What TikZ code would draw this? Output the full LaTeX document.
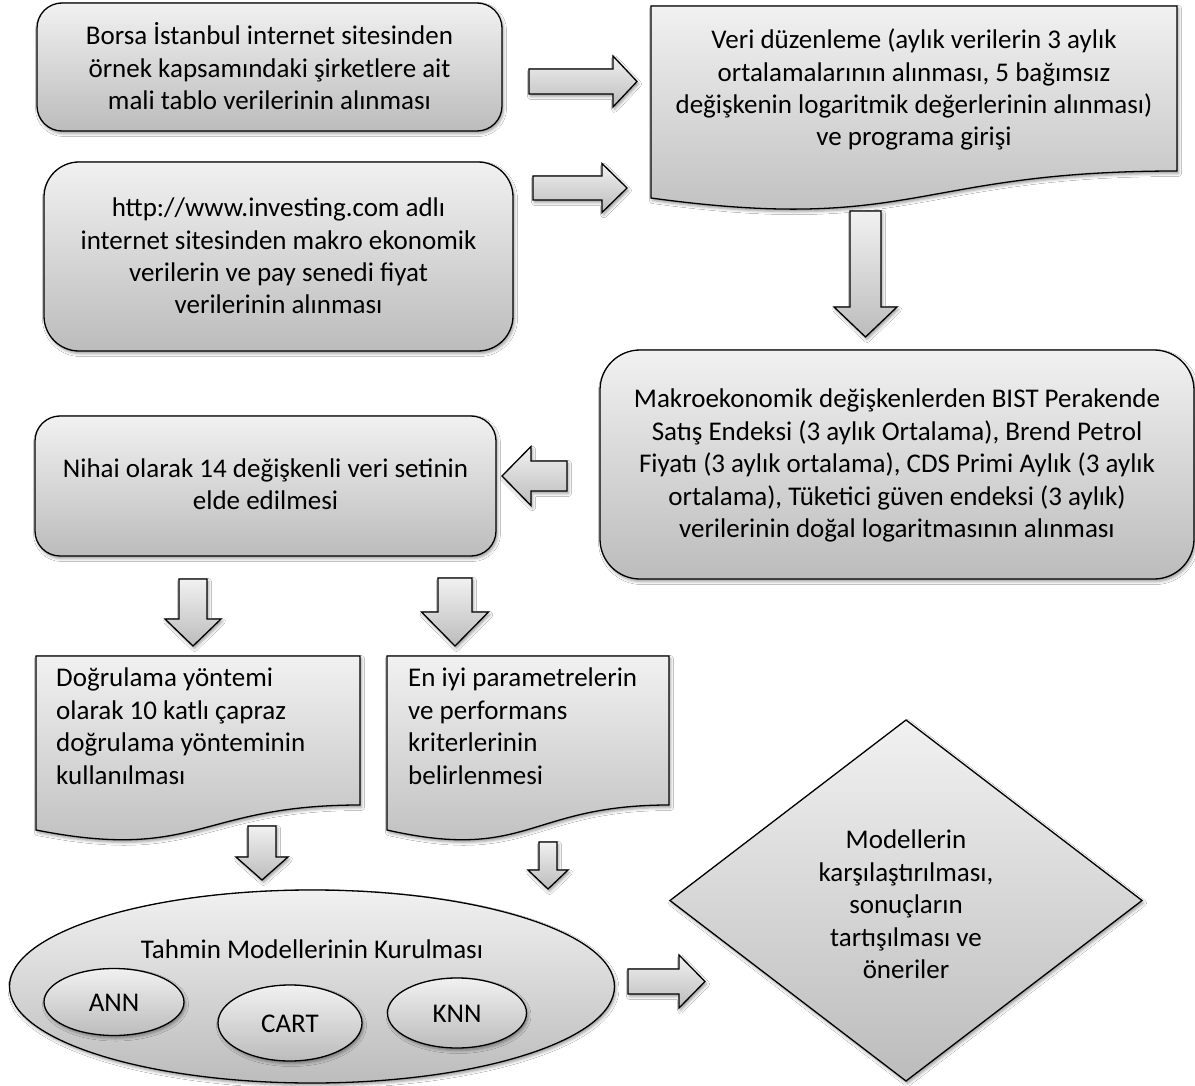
\documentclass[tikz,border=0pt]{standalone}
\usepackage{fontspec}
\setmainfont{Carlito}
\usetikzlibrary{shapes.geometric,shadows.blur}
\definecolor{gtop}{RGB}{241,241,241}
\definecolor{gbot}{RGB}{188,188,188}
\newcommand\wstrut{\rule[-0.269em]{0pt}{1.221em}}
\newcommand\blockH[6]{% y, shaft start x, head base x, tip x, shaft half, head half
  \path[barrow] (#2,#1-#5) -- (#3,#1-#5) -- (#3,#1-#6) -- (#4,#1) -- (#3,#1+#6) -- (#3,#1+#5) -- (#2,#1+#5) -- cycle;}
\newcommand\blockV[6]{% x, shaft start y, head base y, tip y, shaft half, head half
  \path[barrow] (#1-#5,#2) -- (#1+#5,#2) -- (#1+#5,#3) -- (#1+#6,#3) -- (#1,#4) -- (#1-#6,#3) -- (#1-#5,#3) -- cycle;}
\tikzset{
  fnt/.style={font=\fontsize{27}{32.4}\selectfont, execute at begin node=\wstrut, execute at end node=\wstrut},
  shp/.style={draw=black, line width=1.3pt, top color=gtop, bottom color=gbot,
    blur shadow={shadow xshift=1.5pt, shadow yshift=-2.5pt, shadow blur radius=3pt, shadow opacity=40}},
  rbox/.style={shp, rectangle, align=center, inner sep=0pt, fnt},
  ctxt/.style={align=center, inner sep=0pt, fnt},
  ltxt/.style={align=left, inner sep=0pt, fnt, anchor=north west},
  ell/.style={shp, ellipse, inner sep=0pt, fnt},
  barrow/.style={shp, line join=miter},
}
\begin{document}
\begin{tikzpicture}[x=1pt,y=-1pt]
\useasboundingbox (0,0) rectangle (1195,1086);
\fill[white] (0,0) rectangle (1195,1086);

% top-left boxes
\node[rbox, minimum width=465pt, minimum height=128pt, rounded corners=25pt] (b1) at (269.5,67) {};
\node[ctxt] (t1) at (269.5,70)
  {Borsa İstanbul internet sitesinden\\örnek kapsamındaki şirketlere ait\\mali tablo verilerinin alınması};
\node[rbox, minimum width=469pt, minimum height=189pt, rounded corners=35pt] (b2) at (278.5,256.5) {};
\node[ctxt] (t2) at (278.5,259.5)
  {http://www.investing.com adlı\\internet sitesinden makro ekonomik\\verilerin ve pay senedi fiyat\\verilerinin alınması};

% document shape top right
\path[shp] (651,6) -- (1177,6) -- (1177,171) .. controls (914,171) and (914,234) .. (651,198) -- cycle;
\node[ctxt] (b3) at (914,91)
  {Veri düzenleme (aylık verilerin 3 aylık\\ortalamalarının alınması, 5 bağımsız\\değişkenin logaritmik değerlerinin alınması)\\ve programa girişi};

% arrows into document
\blockH{81.5}{529}{613}{637}{12.5}{25.5}
\blockH{188}{533}{602}{627}{12}{24.5}
\blockV{865.5}{211}{307}{337}{15.5}{31.5}

% Makroekonomik box
\node[rbox, minimum width=594pt, minimum height=229pt, rounded corners=40pt] (b4) at (897,464.5) {};
\node[ctxt] (t4) at (897,467)
  {Makroekonomik değişkenlerden BIST Perakende\\Satış Endeksi (3 aylık Ortalama), Brend Petrol\\Fiyatı (3 aylık ortalama), CDS Primi Aylık (3 aylık\\ortalama), Tüketici güven endeksi (3 aylık)\\verilerinin doğal logaritmasının alınması};

\blockH{476}{567}{531}{502}{15}{29.5}

% Nihai box
\node[rbox, minimum width=461pt, minimum height=140pt, rounded corners=25pt] (b5) at (265.5,486) {};
\node[ctxt] (t5) at (265.5,488)
  {Nihai olarak 14 değişkenli veri setinin\\elde edilmesi};

\blockV{193}{579}{619}{646}{14}{28}
\blockV{455}{578}{612}{646}{17}{33.5}

% documents
\path[shp] (36,656) -- (360,656) -- (360,805) .. controls (198,805) and (198,862) .. (36,830) -- cycle;
\node[ltxt] (dA) at (56,668)
  {Doğrulama yöntemi\\olarak 10 katlı çapraz\\doğrulama yönteminin\\kullanılması};
\path[shp] (387,656) -- (669,656) -- (669,805) .. controls (528,805) and (528,862) .. (387,830) -- cycle;
\node[ltxt] (dB) at (408,668)
  {En iyi parametrelerin\\ve performans\\kriterlerinin\\belirlenmesi};

\blockV{262}{826}{857}{880}{14}{26}
\blockV{548}{842}{870}{889}{9}{20}

% big ellipse
\node[ell, minimum width=605pt, minimum height=193pt, execute at begin node={}, execute at end node={}] (big) at (312,986.5) {};
\node[ctxt] (tm) at (312,949) {Tahmin Modellerinin Kurulması};
\node[ell, minimum width=140pt, minimum height=67pt] (ann) at (114,1002) {ANN};
\node[ell, minimum width=144pt, minimum height=76pt] (cart) at (290,1023) {CART};
\node[ell, minimum width=139pt, minimum height=70pt] (knn) at (457,1013) {KNN};

\blockH{981.5}{628}{679}{705}{12.5}{26.5}

% diamond
\path[shp] (670,900.5) -- (906,720) -- (1142,900.5) -- (906,1081) -- cycle;
\node[ctxt] (dm) at (906,908)
  {Modellerin\\karşılaştırılması,\\sonuçların\\tartışılması ve\\öneriler};
\end{tikzpicture}
\end{document}
